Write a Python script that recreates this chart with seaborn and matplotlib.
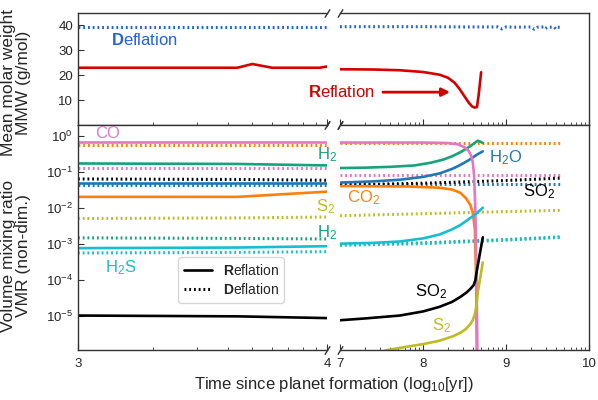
import numpy as np
import matplotlib
matplotlib.use("Agg")
import matplotlib.pyplot as plt
import seaborn as sns
from matplotlib.lines import Line2D
from matplotlib.ticker import FixedLocator, NullLocator, FuncFormatter

sns.set_style("ticks")
plt.rcParams['font.family'] = ['Liberation Sans', 'DejaVu Sans']
plt.rcParams['mathtext.fontset'] = 'custom'
plt.rcParams['mathtext.rm'] = 'Liberation Sans'
plt.rcParams['mathtext.it'] = 'Liberation Sans:italic'
plt.rcParams['mathtext.bf'] = 'Liberation Sans:bold'

# ---- data (time in log10 yr) ----
# mean molar weight
mmw_refl_L_t = [3.0, 3.3, 3.64, 3.70, 3.78, 3.97, 4.0]
mmw_refl_L = [23.0, 23.0, 23.0, 24.5, 23.0, 23.0, 23.5]
mmw_defl_L_t = [3.0, 4.0]
mmw_defl_L = [39.5, 39.5]
mmw_refl_R_t = [7.0, 7.4, 7.72, 8.0, 8.2, 8.3, 8.38, 8.44, 8.5, 8.55, 8.59, 8.62, 8.65, 8.67, 8.70]
mmw_refl_R = [22.4, 22.3, 22.0, 21.3, 20.2, 19.0, 17.0, 14.5, 11.5, 9.0, 7.5, 7.0, 7.2, 12.0, 21.2]
mmw_defl_R_t = [7.0, 8.0, 8.5, 8.9, 8.95, 9.0, 9.1, 9.3, 9.34, 9.38, 9.45, 9.47, 9.5, 9.58, 9.6, 9.62, 9.68]
mmw_defl_R = [39.5, 39.5, 39.4, 39.4, 38.6, 39.4, 39.3, 39.4, 38.5, 39.3, 39.4, 38.7, 39.3, 39.3, 38.6, 39.3, 39.2]

# volume mixing ratios, left panel (10^3 - 10^4 yr)
t_L = [3.0, 3.64, 4.0]
co_refl_L = [0.66, 0.66, 0.66]
co_defl_L = [0.13, 0.13, 0.13]
co2_refl_L = [0.020, 0.020, 0.028]
co2_defl_L = [0.56, 0.56, 0.56]
h2_refl_L = [0.17, 0.165, 0.15]
h2_defl_L = [1.45e-3, 1.4e-3, 1.35e-3]
h2o_refl_L = [0.05, 0.05, 0.05]
h2o_defl_L = [0.043, 0.043, 0.043]
so2_refl_L = [1.0e-5, 9.5e-6, 8.5e-6]
so2_defl_L = [0.063, 0.061, 0.058]
s2_defl_L = [5.0e-3, 5.2e-3, 5.5e-3]
h2s_refl_L = [7.5e-4, 7.8e-4, 8.5e-4]
h2s_defl_L = [5.5e-4, 5.7e-4, 6.0e-4]

# volume mixing ratios, right panel (10^7 - 10^10 yr)
co_refl_R_t = [7.0, 8.0, 8.3, 8.42, 8.5, 8.55, 8.58, 8.6, 8.615, 8.63, 8.645, 8.66]
co_refl_R = [0.65, 0.65, 0.63, 0.58, 0.48, 0.38, 0.28, 0.18, 0.08, 0.01, 1e-4, 1e-7]
co2_refl_R_t = [7.0, 7.8, 8.2, 8.35, 8.45, 8.52, 8.57, 8.6, 8.625, 8.64, 8.65]
co2_refl_R = [0.04, 0.039, 0.036, 0.032, 0.026, 0.018, 0.012, 7e-3, 2.5e-3, 1e-4, 1e-7]
h2_refl_R_t = [7.0, 7.3, 7.6, 7.9, 8.1, 8.25, 8.35, 8.45, 8.53, 8.6, 8.64, 8.66, 8.69, 8.72]
h2_refl_R = [0.127, 0.13, 0.137, 0.15, 0.18, 0.22, 0.27, 0.35, 0.45, 0.58, 0.68, 0.73, 0.69, 0.63]
h2o_refl_R_t = [7.0, 7.4, 7.72, 8.0, 8.2, 8.35, 8.45, 8.55, 8.65, 8.72]
h2o_refl_R = [0.05, 0.054, 0.06, 0.072, 0.09, 0.12, 0.155, 0.21, 0.3, 0.37]
so2_refl_R_t = [7.0, 7.3, 7.72, 8.0, 8.2, 8.35, 8.45, 8.52, 8.57, 8.61, 8.63, 8.645, 8.72]
so2_refl_R = [7.4e-6, 8.3e-6, 1e-5, 1.3e-5, 1.75e-5, 2.4e-5, 3.3e-5, 4.3e-5, 5.5e-5, 7e-5, 9.5e-5, 1.6e-4, 1.5e-3]
s2_refl_R_t = [7.3, 7.57, 7.8, 8.0, 8.2, 8.35, 8.45, 8.52, 8.57, 8.6, 8.625, 8.645, 8.66, 8.72]
s2_refl_R = [7e-7, 1.1e-6, 1.35e-6, 1.6e-6, 2.0e-6, 2.6e-6, 3.3e-6, 4.3e-6, 5.8e-6, 7.5e-6, 1.1e-5, 2e-5, 4.5e-5, 3e-4]
h2s_refl_R_t = [7.0, 7.4, 7.72, 8.0, 8.2, 8.35, 8.45, 8.55, 8.63, 8.72]
h2s_refl_R = [1e-3, 1.05e-3, 1.15e-3, 1.4e-3, 1.8e-3, 2.5e-3, 3.3e-3, 4.8e-3, 6.5e-3, 0.01]
t_defl_R = [7.0, 8.0, 9.0, 9.68]
co_defl_R = [0.083, 0.083, 0.083, 0.083]
co2_defl_R = [0.62, 0.62, 0.62, 0.62]
h2_defl_R = [9.5e-4, 1.05e-3, 1.3e-3, 1.55e-3]
h2o_defl_R = [0.045, 0.045, 0.045, 0.045]
so2_defl_R = [0.043, 0.048, 0.057, 0.067]
s2_defl_R = [6e-3, 6.8e-3, 7.8e-3, 8.5e-3]
h2s_defl_R = [9e-4, 1.0e-3, 1.25e-3, 1.5e-3]

colors = {"CO": "#e377c2", "CO2": "#ff7f0e", "H2": "#17a27a", "H2O": "#1f77b4",
          "SO2": "#000000", "S2": "#bcbd22", "H2S": "#17becf"}
red = "#d40000"
blue = "#2462dc"

solid_lw = 1.9
dot_lw = 2.2
dots = (0, (0.6, 0.95))


def line(ax, t, v, c, dotted=False):
    if dotted:
        sns.lineplot(x=t, y=v, ax=ax, color=c, lw=dot_lw, linestyle=dots, errorbar=None)
    else:
        sns.lineplot(x=t, y=v, ax=ax, color=c, lw=solid_lw, errorbar=None)


fig = plt.figure(figsize=(5.98, 4.0), dpi=100)
axTL = fig.add_axes([0.1304, 0.6875, 0.4164, 0.28])
axTR = fig.add_axes([0.5686, 0.6875, 0.4164, 0.28])
axBL = fig.add_axes([0.1304, 0.125, 0.4164, 0.5625])
axBR = fig.add_axes([0.5686, 0.125, 0.4164, 0.5625])

for ax in (axBL, axBR):
    ax.set_yscale('log')

# top: MMW
line(axTL, mmw_defl_L_t, mmw_defl_L, blue, dotted=True)
line(axTL, mmw_refl_L_t, mmw_refl_L, red)
line(axTR, mmw_defl_R_t, mmw_defl_R, blue, dotted=True)
line(axTR, mmw_refl_R_t, mmw_refl_R, red)

# bottom left
line(axBL, t_L, co2_defl_L, colors["CO2"], True)
line(axBL, t_L, co_refl_L, colors["CO"])
line(axBL, t_L, co_defl_L, colors["CO"], True)
line(axBL, t_L, h2_refl_L, colors["H2"])
line(axBL, t_L, h2o_defl_L, colors["H2O"], True)
line(axBL, t_L, h2o_refl_L, colors["H2O"])
line(axBL, t_L, so2_defl_L, colors["SO2"], True)
line(axBL, t_L, co2_refl_L, colors["CO2"])
line(axBL, t_L, s2_defl_L, colors["S2"], True)
line(axBL, t_L, h2_defl_L, colors["H2"], True)
line(axBL, t_L, h2s_defl_L, colors["H2S"], True)
line(axBL, t_L, h2s_refl_L, colors["H2S"])
line(axBL, t_L, so2_refl_L, colors["SO2"])

# bottom right
line(axBR, t_defl_R, co2_defl_R, colors["CO2"], True)
line(axBR, t_defl_R, co_defl_R, colors["CO"], True)
line(axBR, t_defl_R, h2o_defl_R, colors["H2O"], True)
line(axBR, t_defl_R, so2_defl_R, colors["SO2"], True)
line(axBR, t_defl_R, s2_defl_R, colors["S2"], True)
line(axBR, t_defl_R, h2_defl_R, colors["H2"], True)
line(axBR, t_defl_R, h2s_defl_R, colors["H2S"], True)
line(axBR, co2_refl_R_t, co2_refl_R, colors["CO2"])
line(axBR, h2_refl_R_t, h2_refl_R, colors["H2"])
line(axBR, h2o_refl_R_t, h2o_refl_R, colors["H2O"])
line(axBR, co_refl_R_t, co_refl_R, colors["CO"])
line(axBR, h2s_refl_R_t, h2s_refl_R, colors["H2S"])
line(axBR, s2_refl_R_t, s2_refl_R, colors["S2"])
line(axBR, so2_refl_R_t, so2_refl_R, colors["SO2"])

# axes setup
minor_L = [np.log10(k * 1e3) for k in range(2, 10)]
minor_R = [np.log10(k * 10.0 ** n) for n in (7, 8, 9) for k in range(2, 10)]
for ax in (axTL, axBL):
    ax.set_xlim(3, 4)
    ax.xaxis.set_major_locator(FixedLocator([3, 4]))
    ax.xaxis.set_minor_locator(FixedLocator(minor_L))
    ax.spines['right'].set_visible(False)
for ax in (axTR, axBR):
    ax.set_xlim(7, 10)
    ax.xaxis.set_major_locator(FixedLocator([7, 8, 9, 10]))
    ax.xaxis.set_minor_locator(FixedLocator(minor_R))
    ax.spines['left'].set_visible(False)
    ax.tick_params(axis='y', which='both', left=False, labelleft=False)

for ax in (axTL, axTR):
    ax.set_ylim(0, 45)
    ax.tick_params(axis='x', labelbottom=False)
axTL.yaxis.set_major_locator(FixedLocator([10, 20, 30, 40]))
axTR.yaxis.set_major_locator(FixedLocator([10, 20, 30, 40]))
for ax in (axBL, axBR):
    ax.set_ylim(1.1e-6, 2.0)
    ax.yaxis.set_major_locator(FixedLocator([1e-5, 1e-4, 1e-3, 1e-2, 1e-1, 1e0]))
    ax.yaxis.set_minor_locator(NullLocator())
axBL.xaxis.set_major_formatter(FuncFormatter(lambda v, p: "%d" % round(v)))
axBR.xaxis.set_major_formatter(FuncFormatter(lambda v, p: "%d" % round(v)))

for ax in (axTL, axTR, axBL, axBR):
    ax.tick_params(which='both', direction='in', labelsize=9.5, color='#333333')
    ax.tick_params(which='major', length=4)
    ax.tick_params(which='minor', length=2)
    ax.tick_params(axis='x', pad=6)
    for s in ax.spines.values():
        s.set_color('#333333')
        s.set_linewidth(1.0)

# break marks
bk = dict(marker=[(-1, -1.6), (1, 1.6)], markersize=6, linestyle='none',
          color='#333333', mec='#333333', mew=1, clip_on=False)
for ax in (axTL, axBL):
    ax.plot([1, 1], [0, 1], transform=ax.transAxes, **bk)
for ax in (axTR, axBR):
    ax.plot([0, 0], [0, 1], transform=ax.transAxes, **bk)

# labels
axTL.set_ylabel("Mean molar weight\nMMW (g/mol)", fontsize=12.5, linespacing=1.0)
axTL.yaxis.set_label_coords(-0.19, 0.38)
axBL.set_ylabel("Volume mixing ratio\nVMR (non-dim.)", fontsize=12.5, linespacing=1.0)
axBL.yaxis.set_label_coords(-0.19, 0.42)
fig.text(0.559, 0.038, "Time since planet formation (log$_{10}$[yr])", ha='center', va='center', fontsize=12)

axTL.text(3.265, 34, r"$\bf{D}$eflation", color=blue, fontsize=12, ha='center', va='center')
axTR.annotate(r"$\bf{R}$eflation", xy=(8.36, 13.2), xytext=(7.01, 13.2), color=red, fontsize=12,
              ha='center', va='center', annotation_clip=False,
              arrowprops=dict(arrowstyle='-|>', color=red, lw=2, mutation_scale=12, shrinkA=4))

labs = [
    (axBL, 3.12, 1.14, "CO", "CO"),
    (axBL, 4.0, 0.30, "H$_2$", "H2"),
    (axBR, 8.99, 0.245, "H$_2$O", "H2O"),
    (axBR, 9.40, 0.028, "SO$_2$", "SO2"),
    (axBR, 7.28, 0.019, "CO$_2$", "CO2"),
    (axBL, 3.996, 0.0107, "S$_2$", "S2"),
    (axBL, 4.0, 2.0e-3, "H$_2$", "H2"),
    (axBL, 3.17, 2.1e-4, "H$_2$S", "H2S"),
    (axBR, 8.10, 4.7e-5, "SO$_2$", "SO2"),
    (axBR, 8.22, 5.3e-6, "S$_2$", "S2"),
]
for ax, x, y, s, k in labs:
    ax.text(x, y, s, color=colors[k], fontsize=12, ha='center', va='center', clip_on=False)

handles = [Line2D([], [], color='k', lw=solid_lw),
           Line2D([], [], color='k', lw=dot_lw, linestyle=dots)]
axBL.legend(handles, [r"$\bf{R}$eflation", r"$\bf{D}$eflation"], loc='lower left',
            bbox_to_anchor=(0.375, 0.18), fontsize=10, handlelength=2.0,
            frameon=True, edgecolor='#cccccc', borderpad=0.4, labelspacing=0.3)

fig.savefig("out.png", dpi=100)
